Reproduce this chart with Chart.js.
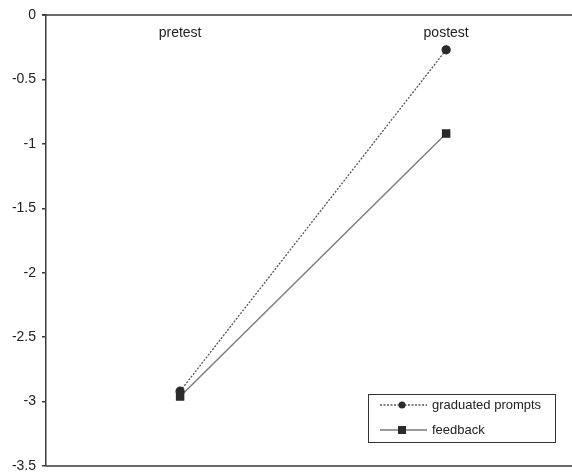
<!DOCTYPE html>
<html>
<head>
<meta charset="utf-8">
<script src="https://cdn.jsdelivr.net/npm/chart.js@4/dist/chart.umd.min.js"></script>
<style>
  html, body { margin: 0; padding: 0; background: #fff; }
  #wrap { width: 572px; height: 475px; }
</style>
</head>
<body>
<div id="wrap"><canvas id="c" width="572" height="475"></canvas></div>
<script>
// Test phases and mean scores per training condition
const categories = ['pretest', 'postest'];
const seriesNames = ['graduated prompts', 'feedback'];
const graduatedPrompts = [-2.92, -0.27];
const feedback = [-2.96, -0.92];
const yMin = -3.5, yMax = 0, yStep = 0.5;

const FONT = '"Liberation Sans", Arial, sans-serif';
const AXIS = '#3a3a3a';

const toPoints = vals => vals.map((v, i) => ({ x: i, y: v }));

// Axis frame lines, phase labels and the boxed legend
const framePlugin = {
  id: 'frame',
  afterDatasetsDraw(chart) {
    const { ctx, chartArea: a, scales } = chart;
    ctx.save();
    ctx.strokeStyle = AXIS;
    ctx.lineWidth = 1.5;
    ctx.beginPath();
    ctx.moveTo(a.left - 4, a.top); ctx.lineTo(a.right, a.top);
    ctx.moveTo(a.left, a.bottom); ctx.lineTo(a.right, a.bottom);
    ctx.stroke();

    ctx.fillStyle = '#222';
    ctx.font = '14px ' + FONT;
    ctx.textAlign = 'center';
    ctx.textBaseline = 'middle';
    categories.forEach((c, i) => {
      ctx.fillText(c, scales.x.getPixelForValue(i), a.top + 18);
    });

    // legend
    const bx = 368, by = 394, bw = 187, bh = 48;
    ctx.lineWidth = 1;
    ctx.strokeStyle = '#333';
    ctx.strokeRect(bx + 0.5, by + 0.5, bw, bh);
    ctx.font = '13px ' + FONT;
    ctx.textAlign = 'left';
    chart.data.datasets.forEach((ds, i) => {
      const y = by + 11 + i * 25;
      ctx.strokeStyle = ds.borderColor;
      ctx.lineWidth = ds.borderWidth;
      ctx.setLineDash(ds.borderDash || []);
      ctx.beginPath();
      ctx.moveTo(bx + 12, y); ctx.lineTo(bx + 59, y);
      ctx.stroke();
      ctx.setLineDash([]);
      ctx.fillStyle = ds.pointBackgroundColor;
      if (ds.pointStyle === 'circle') {
        ctx.beginPath(); ctx.arc(bx + 34, y, 3.5, 0, Math.PI * 2); ctx.fill();
      } else {
        ctx.fillRect(bx + 30, y - 4, 8, 8);
      }
      ctx.fillStyle = '#222';
      ctx.fillText(ds.label, bx + 64, y);
    });
    ctx.restore();
  }
};

new Chart(document.getElementById('c'), {
  type: 'line',
  data: {
    datasets: [
      {
        label: seriesNames[0],
        data: toPoints(graduatedPrompts),
        borderColor: '#555',
        borderWidth: 1.3,
        borderDash: [2, 1.5],
        pointStyle: 'circle',
        pointRadius: 4,
        pointBackgroundColor: '#2b2b2b',
        pointBorderColor: '#2b2b2b',
        fill: false,
        tension: 0
      },
      {
        label: seriesNames[1],
        data: toPoints(feedback),
        borderColor: '#7a7a7a',
        borderWidth: 1.4,
        pointStyle: 'rect',
        pointRadius: 5,
        pointBackgroundColor: '#2b2b2b',
        pointBorderColor: '#2b2b2b',
        fill: false,
        tension: 0
      }
    ]
  },
  options: {
    responsive: false,
    animation: false,
    layout: { autoPadding: false, padding: { top: 15, bottom: 9, right: 0, left: 0 } },
    plugins: { legend: { display: false }, tooltip: { enabled: false } },
    scales: {
      x: {
        type: 'linear',
        min: -0.504,
        max: 1.473,
        display: false
      },
      y: {
        min: yMin,
        max: yMax,
        afterFit(s) { s.width = 46; s.paddingTop = 0; s.paddingBottom = 0; },
        ticks: {
          stepSize: yStep,
          color: '#222',
          font: { family: FONT, size: 14 },
          padding: 6,
          callback: v => String(v)
        },
        grid: { drawOnChartArea: false, tickLength: 4, color: AXIS, lineWidth: 1.5 },
        border: { display: true, color: AXIS, width: 1.5 }
      }
    }
  },
  plugins: [framePlugin]
});
</script>
</body>
</html>
